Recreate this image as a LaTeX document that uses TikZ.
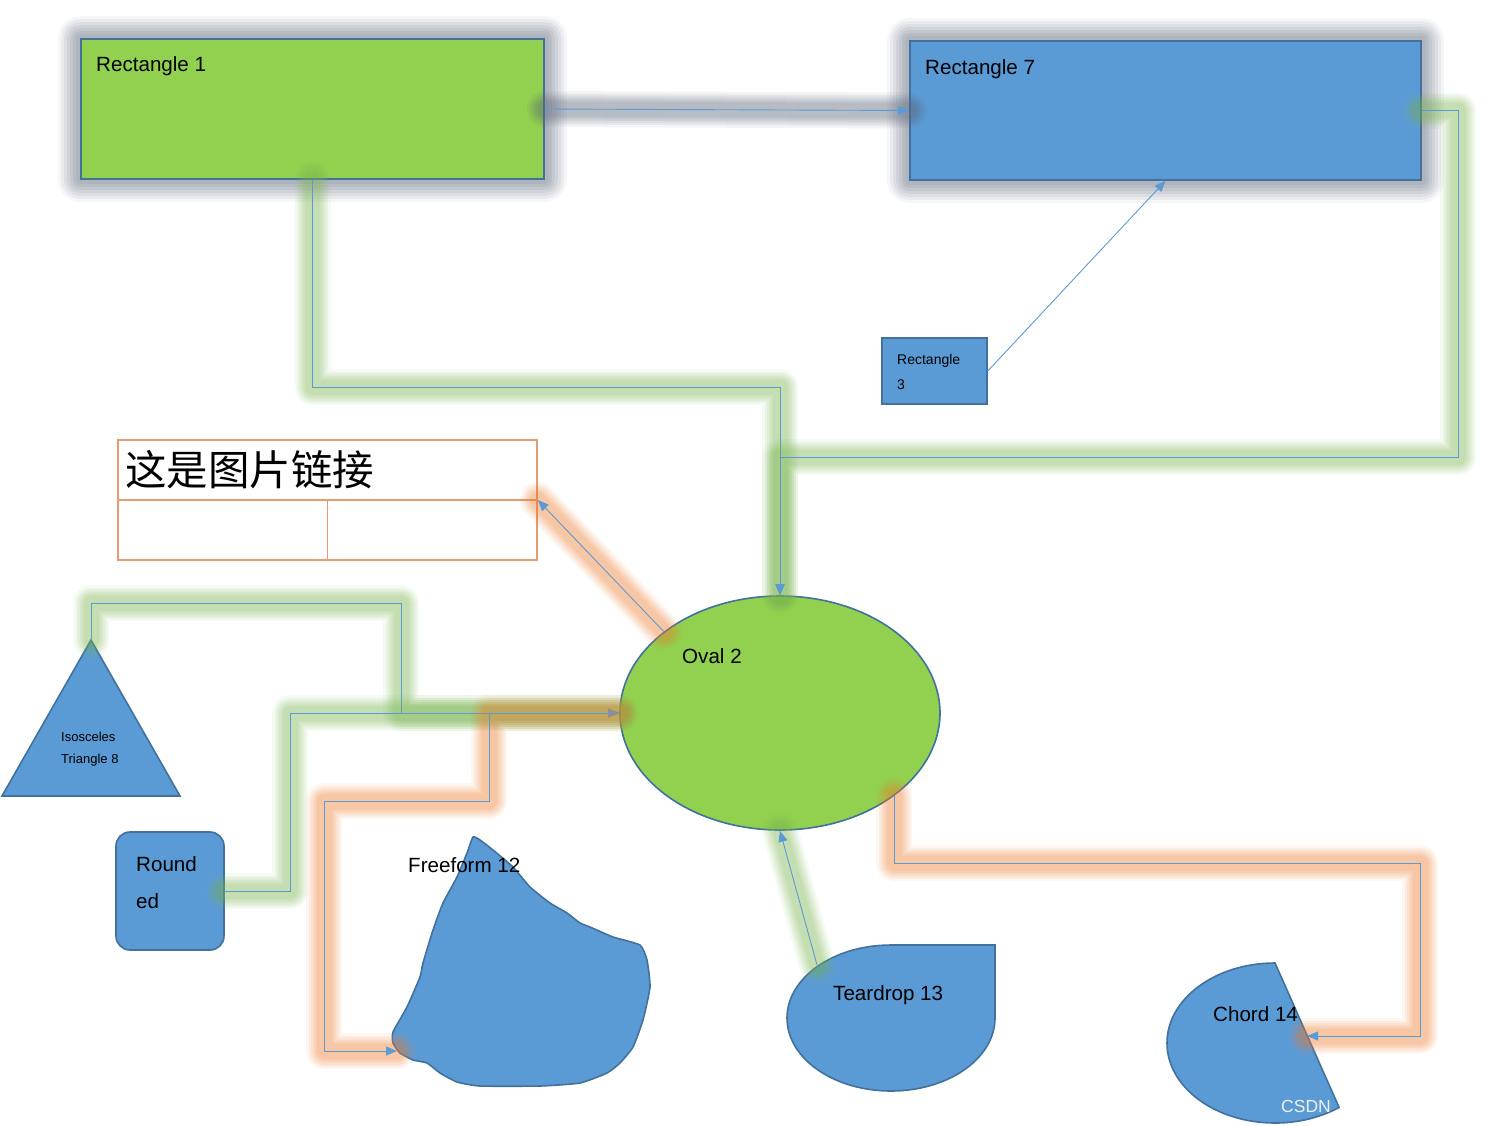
\documentclass[tikz,border=0pt]{standalone}
\usepackage{fontspec}
\setmainfont{Liberation Sans}
\newfontfamily\cjk{Noto Sans CJK SC}
\usepackage{xcolor}
\usetikzlibrary{shapes.geometric,arrows.meta,calc}
\pgfdeclarelayer{background}
\pgfsetlayers{background,main}

\definecolor{boxgreen}{RGB}{146,208,80}
\definecolor{boxblue}{RGB}{91,155,213}
\definecolor{edgeblue}{RGB}{65,113,156}
\definecolor{linkblue}{RGB}{91,155,213}
\definecolor{haloG}{RGB}{120,180,80}
\definecolor{haloO}{RGB}{237,125,49}
\definecolor{haloK}{RGB}{90,100,120}
\definecolor{tableline}{RGB}{232,155,112}

\begin{document}
\begin{tikzpicture}[x=1pt,y=-1pt,
    shapebox/.style={draw=edgeblue, line width=1.6pt, inner sep=0pt},
    link/.style={draw=linkblue, line width=0.9pt, -{Triangle[length=11pt,width=9pt]}},
    glow/.style={preaction={draw=#1, -, line width=36pt, opacity=.07, line cap=round, line join=round},
                 preaction={draw=#1, -, line width=31pt, opacity=.09, line cap=round, line join=round},
                 preaction={draw=#1, -, line width=27pt, opacity=.09, line cap=round, line join=round},
                 preaction={draw=#1, -, line width=23pt, opacity=.1, line cap=round, line join=round},
                 preaction={draw=#1, -, line width=19pt, opacity=.1, line cap=round, line join=round},
                 preaction={draw=#1, -, line width=15pt, opacity=.1, line cap=round, line join=round}},
    lbl/.style={font=\fontsize{20.6}{24}\selectfont, inner sep=0pt, anchor=base west},
    small/.style={font=\fontsize{14}{17}\selectfont, inner sep=0pt, anchor=base west},
    tiny/.style={font=\fontsize{13}{16}\selectfont, inner sep=0pt, anchor=base west}]
\useasboundingbox (0,0) rectangle (1496,1125);

% shapes
\node[shapebox, fill=boxgreen, minimum width=463pt, minimum height=140pt] (rect1) at (312.5,109) {};
\node[shapebox, fill=boxblue, minimum width=511pt, minimum height=139pt] (rect7) at (1165.5,110.5) {};
\node[shapebox, fill=boxblue, minimum width=105pt, minimum height=66pt] (rect3) at (934.5,371) {};
\node[draw=tableline, line width=1.6pt, inner sep=0pt, minimum width=419pt, minimum height=120pt] (tbl) at (327.5,500) {};
\draw[tableline, line width=1.2pt] (tbl.west) -- (tbl.east) (tbl.center) -- (tbl.south);
\node[shapebox, fill=boxgreen, ellipse, minimum width=320pt, minimum height=234pt] (oval) at (780,713) {};
\node[shapebox, fill=boxblue, rounded corners=14pt, minimum width=108pt, minimum height=118pt] (round) at (170,891) {};
\draw[shapebox, fill=boxblue] (91,640) -- (180,796) -- (2,796) -- cycle;
\draw[shapebox, fill=boxblue, line join=round] plot[smooth cycle, tension=0.3] coordinates {
    (473,837) (480,840) (493,850) (513,867) (530,887) (550,903) (567,913) (580,923) (590,927)
    (613,937) (640,945) (647,960) (650,987) (643,1020) (633,1047) (620,1063) (607,1073) (580,1083)
    (540,1086) (480,1086) (457,1082) (440,1073) (427,1063) (413,1060) (400,1053) (393,1043)
    (393,1032) (407,1007) (420,977) (423,963) (433,930) (443,903) (457,877) (467,853)};
\draw[shapebox, fill=boxblue] (891,945) -- (995,945) -- (995,1018)
    arc[start angle=0, end angle=270, x radius=104, y radius=73] -- cycle;
\draw[shapebox, fill=boxblue] (1275,963)
    arc[start angle=270, end angle=53.6, x radius=108, y radius=80] -- cycle;

% glow round the two big boxes
\begin{pgfonlayer}{background}
\foreach \r in {rect1,rect7} {
  \foreach \o/\a in {22/.06,19/.08,16/.09,13/.1,10/.1,7/.1,4/.1} {
    \fill[haloK, opacity=\a, rounded corners=\o pt] ($(\r.south west)+(-\o,\o)$) rectangle ($(\r.north east)+(\o,-\o)$);
  }
}
\end{pgfonlayer}

% connector ends and bends
\coordinate (tri) at (91,640);
\coordinate (free) at (397,1051);
\coordinate (tear) at (817,965);
\coordinate (chord) at (1307,1036);
\coordinate (bendA) at (780,387);
\coordinate (bendB) at (1458,110.5);
\coordinate (bendC) at (780,457);
\coordinate (bendD) at (401,603);
\coordinate (bendE) at (290,713);
\coordinate (bendF) at (489,801);
\coordinate (bendG) at (324,1051);
\coordinate (bendH) at (1420,863);

% connectors
\draw[link, glow=haloK] (rect1.east) -- (rect7.west);
\draw[link] (rect3.east) -- (rect7.south);
\draw[link, glow=haloG] (rect1.south) |- (bendA) -- (oval.north);
\draw[link, glow=haloG] (rect7.east) -- (bendB) |- (bendC) -- (oval.north);
\draw[link, glow=haloG] (tri) |- (bendD) |- (oval.west);
\draw[link, glow=haloG] (round.east) -| (bendE) -- (oval.west);
\draw[link, glow=haloO] (oval.west) -| (bendF) -| (bendG) -- (free);
\draw[link, glow=haloO] (oval.145) -- (tbl.east);
\draw[link, glow=haloG] (tear) -- (oval.south);
\draw[link, glow=haloO] (oval.-36) |- (bendH) |- (chord);

% texts
\node[lbl] (rect1-text) at (96,71) {Rectangle 1};
\node[lbl] (rect7-text) at (925,74) {Rectangle 7};
\node[small] (rect3-text) at (897,364) {Rectangle};
\node[small] (rect3-num) at (897,389) {3};
\node[anchor=west, inner sep=0pt, font=\cjk\fontsize{41.5}{48}\selectfont] (tbl-text) at (125,470) {这是图片链接};
\node[lbl] (oval-text) at (682,663) {Oval 2};
\node[tiny] (tri-text) at (61,741) {Isosceles};
\node[tiny] (tri-num) at (61,763) {Triangle 8};
\node[lbl] (round-text) at (136,871) {Round};
\node[lbl] (round-end) at (136,908) {ed};
\node[lbl] (free-text) at (408,872) {Freeform 12};
\node[lbl] (tear-text) at (833,1000) {Teardrop 13};
\node[lbl] (chord-text) at (1213,1021) {Chord 14};
\node[anchor=base west, inner sep=0pt, text=white!88!gray, font=\fontsize{17.5}{20}\selectfont] (mark) at (1281,1112) {CSDN};
\end{tikzpicture}
\end{document}
